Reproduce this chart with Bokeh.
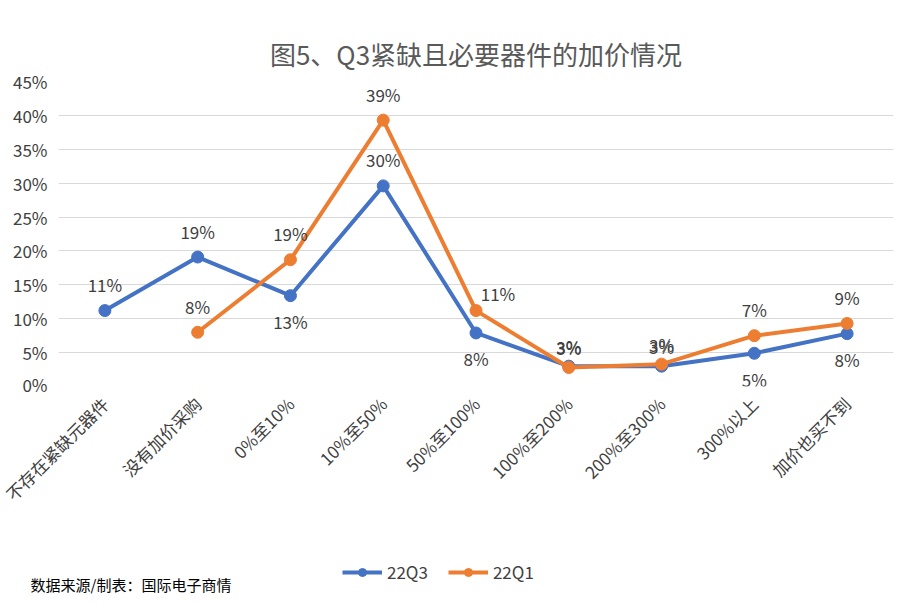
from math import pi
from bokeh.plotting import figure
from bokeh.models import (ColumnDataSource, Legend, LegendItem, NumeralTickFormatter,
                          Label, FixedTicker, Range1d)
from bokeh.core.properties import value
from bokeh.embed import file_html
from bokeh.resources import INLINE

cats = ["不存在紧缺元器件", "没有加价采购", "0%至10%", "10%至50%", "50%至100%",
        "100%至200%", "200%至300%", "300%以上", "加价也买不到"]
q3 = [0.112, 0.191, 0.134, 0.296, 0.079, 0.030, 0.030, 0.049, 0.078]
q1 = [0.080, 0.187, 0.393, 0.112, 0.028, 0.033, 0.075, 0.093]
q1_cats = cats[1:]
q3_lab = ["11%", "19%", "13%", "30%", "8%", "3%", "3%", "5%", "8%"]
q1_lab = ["8%", "19%", "39%", "11%", "3%", "3%", "7%", "9%"]
q3_dy = [-26, -26, 26, -26, 26, -20, -20, 26, 26]
q1_dy = [-26, -26, -26, -17, -20, -20, -26, -26]
q1_dx = [0, 0, 0, 22, 0, 0, 0, 0]

blue = "#4472C4"
orange = "#ED7D31"
font = "Noto Sans CJK SC"
FW, LB, RB = 835, 58, 14

p = figure(x_range=cats, y_range=(0, 0.45), frame_width=FW, frame_height=305,
           output_backend="svg", toolbar_location=None,
           min_border_left=LB, min_border_right=RB, min_border_top=81, min_border_bottom=10)
p.title.text = "图5、Q3紧缺且必要器件的加价情况"
p.title.text_font = font
p.title.text_font_size = "26px"
p.title.text_font_style = "normal"
p.title.text_color = "#595959"
p.title.align = "center"
p.title.standoff = 20
p.outline_line_color = None
p.xgrid.grid_line_color = None
p.ygrid.grid_line_color = "#D9D9D9"
p.xaxis.visible = False
p.yaxis.ticker = FixedTicker(ticks=[i * 0.05 for i in range(10)])
p.yaxis.formatter = NumeralTickFormatter(format="0%")
p.yaxis.axis_line_color = None
p.yaxis.major_tick_line_color = None
p.yaxis.minor_tick_line_color = None
p.yaxis.major_label_text_font = font
p.yaxis.major_label_text_font_size = "17px"
p.yaxis.major_label_text_color = "#404040"

s3 = ColumnDataSource(dict(x=cats, y=q3, t=q3_lab, dy=q3_dy, dx=[0] * 9))
s1 = ColumnDataSource(dict(x=q1_cats, y=q1, t=q1_lab, dy=q1_dy, dx=q1_dx))
p.line("x", "y", source=s3, line_color=blue, line_width=4)
p.scatter("x", "y", source=s3, size=12, color=blue)
p.line("x", "y", source=s1, line_color=orange, line_width=4)
p.scatter("x", "y", source=s1, size=12, color=orange)
for s in (s3, s1):
    p.text("x", "y", text="t", source=s, y_offset="dy", x_offset="dx",
           text_align="center", text_baseline="middle", text_font=value(font),
           text_font_size="17px", text_color="#404040")

# lower strip: rotated category labels, legend and source note
step = FW / len(cats)
p2 = figure(width=LB + FW + RB, height=200, output_backend="svg", toolbar_location=None,
            x_range=Range1d(-LB / step, len(cats) + RB / step), y_range=Range1d(0, 200),
            min_border=0)
p2.axis.visible = False
p2.grid.visible = False
p2.outline_line_color = None
p2.text(x=[i + 0.5 for i in range(len(cats))], y=[196] * len(cats), text=cats, angle=pi / 4,
        text_align="right", text_baseline="middle", text_font=value(font),
        text_font_size="17px", text_color="#404040")
hid = dict(x=[0, 1], y=[-50, -50])
d3 = p2.line(line_color=blue, line_width=4, **hid)
e3 = p2.scatter(size=12, color=blue, **hid)
d1 = p2.line(line_color=orange, line_width=4, **hid)
e1 = p2.scatter(size=12, color=orange, **hid)
leg = Legend(items=[LegendItem(label="22Q3", renderers=[d3, e3]),
                    LegendItem(label="22Q1", renderers=[d1, e1])],
             orientation="horizontal", location=(342, 12), border_line_color=None,
             background_fill_alpha=0, padding=2, spacing=20,
             label_text_font=font, label_text_font_size="17px", label_text_color="#404040",
             glyph_width=40)
p2.add_layout(leg, "center")
p2.add_layout(Label(x=30, y=2, x_units="screen", y_units="screen", text="数据来源/制表：国际电子商情",
                    text_font=font, text_font_size="15px", text_color="#000000"))

open("out.html", "w").write(file_html([p, p2], INLINE))
